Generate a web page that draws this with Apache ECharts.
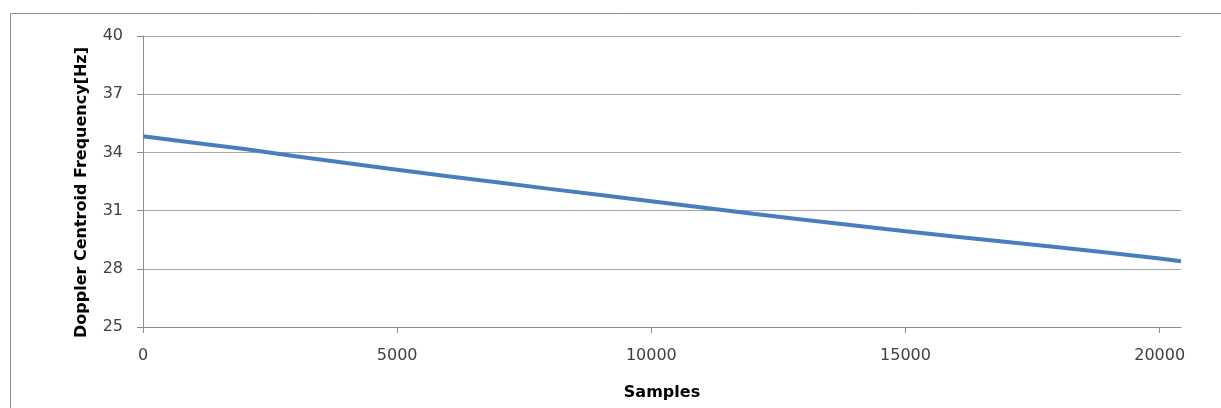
<!DOCTYPE html>
<html>
<head>
<meta charset="utf-8">
<script src="https://cdn.jsdelivr.net/npm/echarts@6/dist/echarts.min.js"></script>
<style>
html,body{margin:0;padding:0;background:#fff;}
#chart{width:1221px;height:408px;}
</style>
</head>
<body>
<div id="chart"></div>
<script>
var samples = [0, 1000, 2000, 3000, 4000, 5000, 6000, 7000, 8000, 9000, 10000, 11000, 12000, 13000, 14000, 15000, 16000, 17000, 18000, 19000, 20000, 20420];
var frequency = [34.83, 34.5, 34.17, 33.8, 33.45, 33.11, 32.77, 32.45, 32.12, 31.8, 31.48, 31.16, 30.84, 30.53, 30.23, 29.93, 29.65, 29.38, 29.11, 28.83, 28.53, 28.39];
var xTicks = [0, 5000, 10000, 15000, 20000];
var yTicks = [25, 28, 31, 34, 37, 40];
var xTitle = 'Samples';
var yTitle = 'Doppler Centroid Frequency[Hz]';

var points = samples.map(function (s, i) { return [s, frequency[i]]; });
var chart = echarts.init(document.getElementById('chart'), null, {renderer: 'canvas'});
chart.setOption({
  animation: false,
  backgroundColor: '#ffffff',
  graphic: [{
    type: 'rect',
    shape: {x: 10.5, y: 13.5, width: 1230, height: 410},
    style: {fill: 'none', stroke: '#8c8c8c', lineWidth: 1},
    silent: true
  }],
  grid: {left: 143, right: 40, top: 36, bottom: 81, containLabel: false},
  xAxis: {
    type: 'value',
    min: 0,
    max: 20420,
    interval: 5000,
    name: xTitle,
    nameLocation: 'middle',
    nameGap: 58,
    nameTextStyle: {fontFamily: 'DejaVu Sans', fontWeight: 'bold', fontSize: 16, color: '#000'},
    axisLine: {show: true, lineStyle: {color: '#8c8c8c', width: 1}},
    axisTick: {show: true, inside: false, length: 6, lineStyle: {color: '#8c8c8c'}, customValues: xTicks},
    axisLabel: {customValues: xTicks, margin: 21, fontFamily: 'DejaVu Sans', fontSize: 16, color: '#404040',
      formatter: function (v) { return String(v); }},
    splitLine: {show: false}
  },
  yAxis: {
    type: 'value',
    min: 25,
    max: 40,
    interval: 3,
    name: yTitle,
    nameLocation: 'middle',
    nameRotate: 90,
    nameGap: 53,
    nameTextStyle: {fontFamily: 'DejaVu Sans', fontWeight: 'bold', fontSize: 16, color: '#000', padding: [0, 22, 0, 0]},
    axisLine: {show: true, lineStyle: {color: '#8c8c8c', width: 1}},
    axisTick: {show: true, inside: false, length: 6, lineStyle: {color: '#8c8c8c'}},
    axisLabel: {margin: 20, fontFamily: 'DejaVu Sans', fontSize: 16, color: '#404040'},
    splitLine: {show: true, lineStyle: {color: '#a6a6a6', width: 1}}
  },
  series: [{
    type: 'line',
    data: points,
    showSymbol: false,
    smooth: false,
    lineStyle: {color: '#4a7ebb', width: 4},
    itemStyle: {color: '#4a7ebb'}
  }]
});
</script>
</body>
</html>
